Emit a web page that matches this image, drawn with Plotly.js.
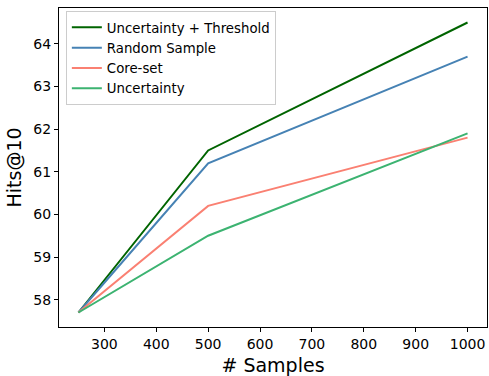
<!DOCTYPE html>
<html><head><meta charset="utf-8">
<script src="https://cdn.plot.ly/plotly-3.0.1.min.js"></script>
<style>html,body{margin:0;padding:0;background:#fff}#chart{width:489px;height:376px}</style>
</head><body><div id="chart"></div>
<script>
const samples = [250, 500, 1000];
const seriesNames = ["Uncertainty + Threshold", "Random Sample", "Core-set", "Uncertainty"];
const uncertaintyThreshold = [57.7, 61.5, 64.5];
const randomSample = [57.7, 61.2, 63.7];
const coreSet = [57.7, 60.2, 61.8];
const uncertainty = [57.7, 59.5, 61.9];
const xTicks = [300, 400, 500, 600, 700, 800, 900, 1000];
const yTicks = [58, 59, 60, 61, 62, 63, 64];

const colors = ["#006400", "#4682b4", "#fa8072", "#3cb371"];
const values = [uncertaintyThreshold, randomSample, coreSet, uncertainty];
const traces = values.map((v, i) => ({
  x: samples, y: v, type: "scatter", mode: "lines", name: seriesNames[i],
  line: {color: colors[i], width: 2}
}));
const font = {family: "DejaVu Sans, sans-serif", color: "#000"};
const layout = {
  width: 489, height: 376,
  margin: {l: 59, r: 2, t: 8, b: 49},
  paper_bgcolor: "#fff", plot_bgcolor: "#fff",
  font: font,
  showlegend: true,
  legend: {x: 0.016, y: 0.99, xanchor: "left", yanchor: "top",
    bgcolor: "rgba(255,255,255,0.8)", bordercolor: "#cccccc", borderwidth: 1,
    font: {family: "DejaVu Sans, sans-serif", size: 13.3, color: "#000"},
    tracegroupgap: 0, itemwidth: 30},
  xaxis: {range: [212.5, 1037.5], tickvals: xTicks, ticks: "outside", ticklen: 4, tickwidth: 1,
    tickcolor: "#000", showgrid: false, zeroline: false, showline: true, linecolor: "#000",
    linewidth: 1, mirror: true, tickfont: {size: 14, family: "DejaVu Sans, sans-serif"},
    title: {text: "# Samples", font: {size: 19, family: "DejaVu Sans, sans-serif"}, standoff: 7}},
  yaxis: {range: [57.36, 64.84], tickvals: yTicks, ticks: "outside", ticklen: 4, tickwidth: 1,
    tickcolor: "#000", showgrid: false, zeroline: false, showline: true, linecolor: "#000",
    linewidth: 1, mirror: true, tickfont: {size: 14, family: "DejaVu Sans, sans-serif"},
    title: {text: "Hits@10", font: {size: 19, family: "DejaVu Sans, sans-serif"}, standoff: 6}}
};
Plotly.newPlot("chart", traces, layout, {displayModeBar: false, staticPlot: true});
</script></body></html>
